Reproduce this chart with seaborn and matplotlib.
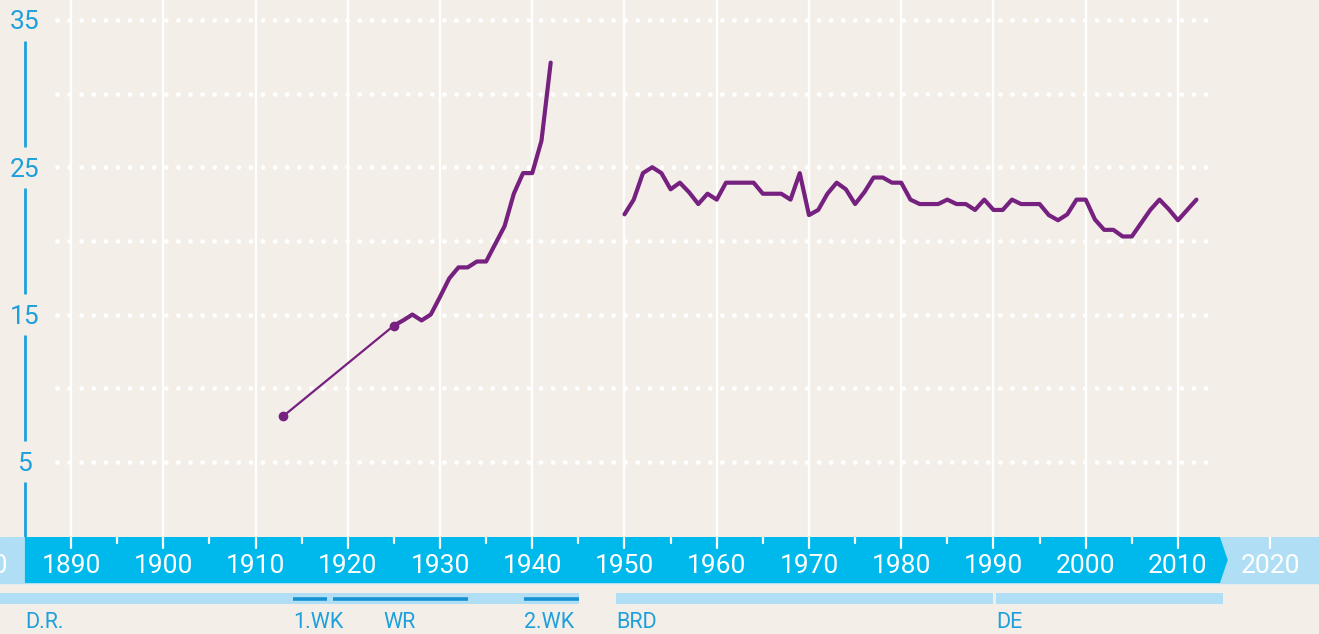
import matplotlib.pyplot as plt
import matplotlib.patches as mpatches
import pandas as pd
import seaborn as sns

# Daten
jahre_einzeln = [1913, 1925]
werte_einzeln = [8.1, 14.25]

jahre_vor = list(range(1925, 1943))
werte_vor = [14.25, 14.6, 15.0, 14.6, 15.0, 16.2, 17.45, 18.2, 18.2, 18.6,
             18.6, 19.8, 21.0, 23.2, 24.6, 24.6, 26.8, 32.1]

jahre_nach = list(range(1950, 2013))
werte_nach = [21.8, 22.8, 24.6, 25.0, 24.6, 23.5, 23.95, 23.3, 22.5, 23.2,
              22.8, 23.95, 23.95, 23.95, 23.95, 23.2, 23.2, 23.2, 22.8, 24.6,
              21.75, 22.1, 23.2, 23.95, 23.5, 22.5, 23.3, 24.3, 24.3, 23.95,
              23.95, 22.8, 22.5, 22.5, 22.5, 22.8, 22.5, 22.5, 22.1, 22.8,
              22.1, 22.1, 22.8, 22.5, 22.5, 22.5, 21.75, 21.4, 21.8, 22.8,
              22.8, 21.45, 20.75, 20.75, 20.3, 20.3, 21.2, 22.1, 22.8, 22.15,
              21.4, 22.1, 22.8]

y_ticks = [5, 15, 25, 35]
jahrzehnte = list(range(1880, 2030, 10))

epochen = ["D.R.", "BRD", "DE"]
epochen_von = [1871, 1949.1, 1990.3]
epochen_bis = [1945.1, 1989.9, 2014.9]

kriege = ["1.WK", "WR", "2.WK"]
kriege_von = [1914.1, 1918.4, 1939.1]
kriege_bis = [1917.8, 1933.0, 1945.1]

label_text = ["D.R.", "1.WK", "WR", "2.WK", "BRD", "DE"]
label_x = [1885.0, 1914.1, 1925.6, 1939.1, 1949.1, 1990.3]
label_ha = ["left", "left", "center", "left", "left", "left"]

# Farben
HG = "#f3efe8"
LILA = "#76207f"
BLAU = "#00b9ec"
HELLBLAU = "#b0dff5"
TEXTBLAU = "#1ea0dc"
DUNKELBLAU = "#1592d4"

sns.set_style("white", {"axes.facecolor": HG, "figure.facecolor": HG})
plt.rcParams['font.family'] = ['Roboto', 'DejaVu Sans']

X0, X1 = 1882.3, 2025.29
fig = plt.figure(figsize=(13.19, 6.34), dpi=100)
ax = fig.add_axes([0, 97 / 634, 1, 537 / 634])
ax.set_xlim(X0, X1)
ax.set_ylim(-0.1, 36.35)
for s in ax.spines.values():
    s.set_visible(False)
ax.set_xticks([])
ax.set_yticks([])

# vertikale Linien
for j in jahrzehnte:
    if 1890 <= j <= 2010:
        ax.axvline(j, color="white", lw=1.6, zorder=1)

# gepunktete Hilfslinien
for v in range(5, 40, 5):
    ax.plot([1888.5, 2013.5], [v, v], color="white", lw=3.4,
            linestyle=(0, (0.01, 2.55)), dash_capstyle="round", zorder=1)

# Y-Achse mit Lücken für die Beschriftung
ax.plot([1885, 1885], [-0.1, 5 - 1.4], color=TEXTBLAU, lw=2, solid_capstyle="butt", zorder=2)
for v in y_ticks[:-1]:
    ax.plot([1885, 1885], [v + 1.4, v + 10 - 1.4], color=TEXTBLAU, lw=2,
            solid_capstyle="butt", zorder=2)
for v in y_ticks:
    ax.text(1885, v, str(v), ha="center", va="center_baseline", fontsize=19,
            color=TEXTBLAU)

# Datenlinien
df_e = pd.DataFrame({"jahr": jahre_einzeln, "wert": werte_einzeln})
df_v = pd.DataFrame({"jahr": jahre_vor, "wert": werte_vor})
df_n = pd.DataFrame({"jahr": jahre_nach, "wert": werte_nach})
sns.lineplot(data=df_e, x="jahr", y="wert", ax=ax, color=LILA, lw=1.6,
             marker="o", markersize=7, markeredgewidth=0, zorder=3)
sns.lineplot(data=df_v, x="jahr", y="wert", ax=ax, color=LILA, lw=3.0, zorder=3)
sns.lineplot(data=df_n, x="jahr", y="wert", ax=ax, color=LILA, lw=3.0, zorder=3)
ax.set_xlabel("")
ax.set_ylabel("")

# Zeitleiste unten
axb = fig.add_axes([0, 0, 1, 97 / 634])
axb.set_xlim(X0, X1)
axb.set_ylim(97, 0)
axb.axis("off")
axb.axhspan(0, 46, color=HELLBLAU, zorder=0)
pfeil = mpatches.Polygon([(1885.0, 0), (2014.55, 0), (2015.4, 23), (2014.55, 46), (1885.0, 46)],
                         closed=True, color=BLAU, lw=0, zorder=1)
axb.add_patch(pfeil)
for j in jahrzehnte:
    axb.plot([j, j], [0, 11], color="white", lw=1.6, zorder=2)
    axb.text(j, 29, str(j), ha="center", va="center", fontsize=19,
             color="white", zorder=3)
for j in range(1895, 2010, 10):
    axb.plot([j, j], [0, 6], color="white", lw=1.6, zorder=2)

for von, bis in zip(epochen_von, epochen_bis):
    axb.fill_between([von, bis], 56, 67, color=HELLBLAU, lw=0)
for von, bis in zip(kriege_von, kriege_bis):
    axb.plot([von, bis], [61.5, 61.5], color=DUNKELBLAU, lw=2.6, solid_capstyle="butt")
for t, x, ha in zip(label_text, label_x, label_ha):
    axb.text(x, 86, t, ha=ha, va="center", fontsize=15.5, color=TEXTBLAU)

fig.savefig("out.png", dpi=100, facecolor=HG)
